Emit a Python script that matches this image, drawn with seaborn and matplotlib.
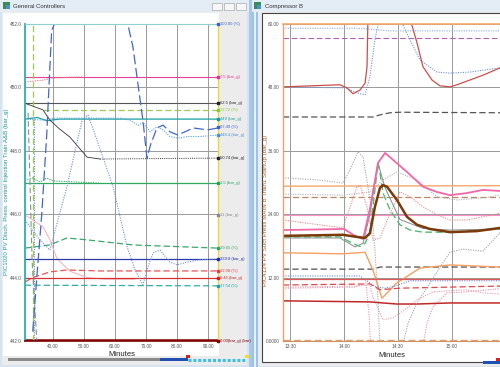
import matplotlib
matplotlib.use("Agg")
import matplotlib.pyplot as plt
import matplotlib.transforms as mtransforms
from matplotlib.patches import Rectangle
from matplotlib.lines import Line2D
import seaborn as sns

W, H = 500, 367

# ---------------- General Controllers (left) : minutes vs bar_g ----------------
gc_xticks = [40, 50, 60, 70, 80, 90]
gc_xlabels = ["40.00", "50.00", "60.00", "70.00", "80.00", "90.00"]
gc_yticks = [442, 444, 446, 448, 450, 452]
gc_ylabels = ["442.0", "444.0", "446.0", "448.0", "450.0", "452.0"]

gc_out_t = [33.5, 34.8, 36.4, 38.0, 39.0, 39.6, 40.5, 63.5, 64.2, 65.8, 68.1, 69.0, 70.3, 71.5, 73.5, 75.5, 77.7, 80.2, 82.6, 85.2, 89.8, 93.2]
gc_out_v = [442.3, 444.0, 446.0, 448.5, 450.6, 451.8, 452.0, 452.0, 451.97, 451.27, 449.6, 448.97, 447.77, 448.2, 448.72, 448.81, 448.6, 448.5, 448.6, 448.72, 448.66, 448.72]
gc_hump_t = [31.0, 35.8, 39.0, 44.5, 49.4, 51.3, 54.2, 59.4, 63.9, 66.5, 69.0, 70.6, 72.3, 74.5, 77.7, 80.0, 83.2, 87.4, 93.2]
gc_hump_v = [445.82, 445.19, 444.87, 446.86, 448.97, 449.13, 448.34, 446.86, 444.97, 444.24, 443.77, 444.33, 444.78, 444.87, 444.49, 444.40, 444.49, 444.56, 444.59]
gc_flow_t = [31.0, 93.2]
gc_flow_v = [444.59, 444.59]
gc_wave_t = [31.0, 36.8, 40.6, 50.3, 61.6, 64.8, 67.5, 69.0, 71.3, 73.5, 75.5, 77.7, 80.3, 83.5, 87.4, 93.2]
gc_wave_v = [449.0, 448.97, 449.03, 449.03, 449.03, 448.97, 448.8, 448.9, 448.6, 448.75, 448.66, 448.45, 448.4, 448.45, 448.45, 448.5]
gc_decay_t = [31.0, 36.8, 39.0, 42.0, 45.5, 51.0, 55.2]
gc_decay_v = [449.5, 449.29, 448.97, 448.7, 448.43, 447.8, 447.74]
gc_decay2_t = [55.2, 93.2]
gc_decay2_v = [447.74, 447.77]
gc_sp_t = [31.0, 93.2]
gc_sp_v = [449.5, 449.5]
gc_pink_t = [31.0, 93.2]
gc_pink_v = [450.33, 450.33]
gc_pinkdot_t = [31.0, 36.8, 40.0, 49.7]
gc_pinkdot_v = [450.17, 450.23, 450.3, 450.33]
gc_lime_t = [36.8, 93.2]
gc_lime_v = [449.29, 449.29]
gc_limevert_t = [33.5, 33.5]
gc_limevert_v = [442.0, 452.0]
gc_teal_t = [31.0, 35.0, 38.0, 42.0, 93.2]
gc_teal_v = [449.0, 449.05, 448.95, 449.0, 449.0]
gc_green_t = [31.0, 93.2]
gc_green_v = [446.98, 446.98]
gc_greendot_t = [31.0, 33.5, 35.8, 38.1, 40.0, 55.2]
gc_greendot_v = [447.08, 447.14, 447.02, 447.14, 447.05, 446.98]
gc_gdash_t = [31.0, 39.0, 44.5, 51.0, 65.8, 93.2]
gc_gdash_v = [444.93, 445.03, 445.25, 445.19, 445.03, 444.93]
gc_rdash_t = [31.0, 33.5, 39.0, 44.5, 55.2, 93.2]
gc_rdash_v = [443.86, 444.0, 444.18, 444.24, 444.21, 444.21]
gc_red_t = [31.0, 93.2]
gc_red_v = [444.0, 444.0]
gc_tdash_t = [31.0, 93.2]
gc_tdash_v = [443.76, 443.74]
gc_salmon_t = [31.0, 33.5, 36.8, 39.0, 41.3, 45.5, 51.0, 57.0, 66.5]
gc_salmon_v = [445.97, 445.82, 445.6, 445.2, 444.6, 444.2, 444.0, 443.95, 443.95]
gc_zero_t = [31.0, 93.2]
gc_zero_v = [442.02, 442.02]
gc_drop_t = [32.0, 32.6, 33.3, 34.2, 34.8]
gc_drop_v = [449.2, 447.0, 444.5, 443.0, 442.0]
gc_vdot_t = [33.9, 33.9]
gc_vdot_v = [449.0, 442.0]

gc_tags = [452.0, 450.33, 449.5, 449.29, 449.0, 448.75, 448.5, 447.77, 446.98,
           445.97, 444.93, 444.59, 444.21, 444.0, 443.73, 442.0]
gc_tag_text = ["100.00 (%)", "7.5 (bar_g)", "62.5 (bar_g)", "72.72 (%)", "449 (bar_g)",
               "67.49 (%)", "448.4 (bar_g)", "50.74 (bar_g)", "1.5 (bar_g)", "11 (bar_g)",
               "29.65 (%)", "339.8 (bar_g)", "22.08 (%)", "0.45 (bar_g)", "17.54 (%)",
               "0.00(bar_g) (bar)"]
gc_tag_col = ["#3a5fc8", "#e0308a", "#222222", "#8cc43c", "#1a9a9a", "#3a5fc8", "#4a90d0",
              "#222222", "#2aa060", "#888888", "#3aa060", "#2030a0", "#e04040", "#d02020",
              "#20a0a0", "#800000"]

# ---------------- Compressor B (right) : minutes after 13:00 vs bar_g ----------------
cb_xticks = [30, 60, 90, 120]
cb_xlabels = ["13:30", "14:00", "14:30", "15:00"]
cb_yticks = [0, 12, 24, 36, 48, 60]
cb_ylabels = ["0.0000", "12.00", "24.00", "36.00", "48.00", "60.00"]

cb_top_t = [26.1, 66.0, 72.0, 78.0, 85.0, 100.0, 146.7]
cb_top_v = [59.2, 59.2, 59.1, 58.9, 58.7, 58.7, 58.7]
cb_dipa_t = [26.1, 60.6, 68.9, 71.7, 74.4, 77.2, 78.9, 79.5]
cb_dipa_v = [48.1, 47.9, 46.8, 46.6, 50.0, 57.0, 59.8, 61.0]
cb_dipb_t = [92.2, 96.7, 102.2, 111.7, 118.9, 130.0, 146.7]
cb_dipb_v = [60.2, 57.0, 53.2, 50.9, 50.7, 50.9, 51.7]
cb_purple_t = [26.1, 146.7]
cb_purple_v = [57.4, 57.4]
cb_reda_t = [26.1, 57.8, 61.7, 65.0, 68.9, 71.7, 72.8, 73.3]
cb_reda_v = [48.1, 48.5, 47.9, 46.8, 47.5, 48.8, 51.9, 61.0]
cb_redb_t = [96.7, 100.6, 103.9, 108.9, 113.3, 118.9, 122.8, 130.0, 137.2, 146.7]
cb_redb_v = [61.0, 56.4, 51.9, 49.4, 48.3, 48.1, 48.5, 49.4, 50.3, 51.7]
cb_gdhi_t = [26.1, 76.1, 80.0, 85.6, 91.1, 146.7]
cb_gdhi_v = [42.4, 42.4, 42.8, 43.2, 43.3, 43.2]
cb_pink_t = [26.1, 60.0, 66.1, 70.6, 74.4, 78.9, 82.8, 87.2, 95.0, 103.9, 111.7, 118.9, 128.3, 137.2, 146.7]
cb_pink_v = [21.0, 21.2, 19.9, 19.3, 25.0, 33.7, 35.6, 34.3, 32.0, 29.2, 28.2, 27.6, 28.0, 28.6, 28.4]
cb_pv_t = [26.1, 59.4, 67.2, 71.7, 74.4, 77.2, 80.0, 81.7, 83.9, 89.4, 95.0, 100.6, 107.8, 118.9, 133.9, 146.7]
cb_pv_v = [19.9, 20.1, 19.7, 19.5, 20.4, 25.4, 29.0, 29.5, 29.2, 26.7, 23.5, 22.0, 21.2, 20.6, 20.8, 21.4]
cb_green_t = [26.1, 57.8, 66.1, 68.9, 71.7, 74.4, 78.9, 80.0, 81.7, 85.6, 91.1, 96.7, 103.9, 118.9, 146.7]
cb_green_v = [19.7, 19.7, 18.3, 17.9, 18.5, 20.4, 33.7, 31.8, 28.0, 24.8, 22.0, 21.0, 20.6, 20.6, 21.2]
cb_gray_t = [26.1, 57.8, 66.1, 70.6, 74.4, 78.9, 82.8, 91.1, 103.9, 118.9, 146.7]
cb_gray_v = [19.5, 19.5, 17.8, 18.5, 24.0, 33.7, 29.0, 23.0, 21.3, 21.0, 21.2]
cb_orhi_t = [26.1, 146.7]
cb_orhi_v = [29.3, 29.4]
cb_tan_t = [26.1, 146.7]
cb_tan_v = [27.2, 27.2]
cb_pline_t = [26.1, 146.7]
cb_pline_v = [23.9, 23.9]
cb_gdot1_t = [26.1, 45.0, 59.4, 63.3, 67.8, 70.6, 73.3, 75.6, 77.2, 78.9, 80.0]
cb_gdot1_v = [30.9, 30.5, 29.9, 32.4, 35.8, 34.8, 29.2, 24.2, 17.2, 7.8, -1.0]
cb_gdot2_t = [26.1, 59.4, 74.4, 81.7, 89.4, 100.6, 111.7, 122.8, 137.2, 146.7]
cb_gdot2_v = [27.8, 27.6, 28.2, 30.5, 32.0, 30.5, 27.3, 26.7, 27.1, 27.6]
cb_pdot_t = [26.1, 59.4, 67.2, 68.9, 72.8, 76.1, 80.0, 85.6, 91.1, 96.7, 103.9, 111.7, 118.9, 128.3, 137.2, 146.7]
cb_pdot_v = [22.9, 21.4, 29.2, 29.5, 25.4, 19.1, 19.5, 24.2, 28.2, 27.3, 25.4, 23.9, 22.9, 22.9, 23.5, 24.2]
cb_gdlo_t = [26.1, 76.1, 80.0, 146.7]
cb_gdlo_v = [13.6, 13.6, 14.0, 14.0]
cb_orlo_t = [26.1, 59.4, 71.7, 76.1, 81.1, 89.4, 102.2, 118.9, 146.7]
cb_orlo_v = [16.7, 16.5, 16.8, 13.4, 8.1, 11.0, 13.8, 14.4, 14.0]
cb_bdot_t = [26.1, 68.9, 77.2, 82.8, 88.3, 96.7, 146.7]
cb_bdot_v = [12.3, 12.3, 10.3, 10.0, 10.4, 11.4, 11.4]
cb_redlo_t = [26.1, 146.7]
cb_redlo_v = [11.7, 11.7]
cb_rdash_t = [26.1, 74.4, 80.0, 91.1, 146.7]
cb_rdash_v = [10.6, 10.8, 9.7, 10.0, 10.4]
cb_pdot2_t = [26.1, 66.1, 74.4, 76.1, 81.7, 87.2, 95.0, 100.6, 109.4, 128.3, 137.2, 146.7]
cb_pdot2_v = [10.2, 10.4, 10.6, 8.3, 4.0, 4.4, 6.2, 7.8, 9.3, 9.7, 9.1, 8.9]
cb_pdot3_t = [26.1, 66.1, 72.2, 73.9, 75.0, 103.3, 106.1, 109.4, 117.2, 128.3, 146.7]
cb_pdot3_v = [10.0, 10.2, 11.0, 5.0, -2.0, -2.0, 3.4, 6.4, 9.1, 9.3, 9.9]
cb_dred_t = [26.1, 74.4, 81.7, 89.4, 100.6, 118.9, 146.7]
cb_dred_v = [7.6, 7.4, 7.2, 7.0, 7.0, 7.2, 7.2]
cb_gdot3_t = [92.8, 95.6, 100.6, 107.8, 115.0, 118.9, 126.0, 137.2, 146.7]
cb_gdot3_v = [-0.5, 3.4, 7.2, 11.0, 14.8, 16.8, 17.4, 17.0, 20.5]
cb_base_t = [26.1, 146.7]
cb_base_v = [0.1, 0.1]

DOT = (0, (1, 1.2))
DASH = (0, (5, 2.5))
LDASH = (0, (8, 3))

gc_traces = [
    (gc_zero_t, gc_zero_v, "#800000", "-", 1.8),
    (gc_sp_t, gc_sp_v, "#555555", "-", 0.8),
    (gc_pink_t, gc_pink_v, "#e8409a", "-", 0.8),
    (gc_pinkdot_t, gc_pinkdot_v, "#f07070", DOT, 0.8),
    (gc_lime_t, gc_lime_v, "#9ccc50", DASH, 0.9),
    (gc_limevert_t, gc_limevert_v, "#9ccc50", DASH, 0.9),
    (gc_teal_t, gc_teal_v, "#1aa0a0", "-", 0.9),
    (gc_green_t, gc_green_v, "#30a860", "-", 0.9),
    (gc_greendot_t, gc_greendot_v, "#30a860", DOT, 0.8),
    (gc_gdash_t, gc_gdash_v, "#3aa868", DASH, 0.9),
    (gc_salmon_t, gc_salmon_v, "#f7b0b8", "-", 0.7),
    (gc_rdash_t, gc_rdash_v, "#f05050", DASH, 0.9),
    (gc_red_t, gc_red_v, "#d83030", "-", 0.9),
    (gc_tdash_t, gc_tdash_v, "#30b0a0", DASH, 0.9),
    (gc_flow_t, gc_flow_v, "#2a3aa8", "-", 0.9),
    (gc_decay_t, gc_decay_v, "#333333", "-", 0.6),
    (gc_decay2_t, gc_decay2_v, "#333333", DOT, 0.7),
    (gc_wave_t, gc_wave_v, "#5aa0dc", DOT, 0.8),
    (gc_hump_t, gc_hump_v, "#6f8fd8", DOT, 0.8),
    (gc_drop_t, gc_drop_v, "#909090", DASH, 0.8),
    (gc_vdot_t, gc_vdot_v, "#6f8fd8", DOT, 0.8),
    (gc_out_t, gc_out_v, "#4466c8", LDASH, 0.9),
]

cb_traces = [
    (cb_base_t, cb_base_v, "#e0a070", DASH, 1.0),
    (cb_top_t, cb_top_v, "#8aa8e0", DOT, 0.8),
    (cb_purple_t, cb_purple_v, "#b060b0", DASH, 0.8),
    (cb_dipa_t, cb_dipa_v, "#7090d8", DOT, 0.8),
    (cb_dipb_t, cb_dipb_v, "#7090d8", DOT, 0.8),
    (cb_reda_t, cb_reda_v, "#c8504a", "-", 0.9),
    (cb_redb_t, cb_redb_v, "#c8504a", "-", 0.9),
    (cb_gdhi_t, cb_gdhi_v, "#555555", DASH, 0.9),
    (cb_orhi_t, cb_orhi_v, "#f5a868", "-", 1.0),
    (cb_tan_t, cb_tan_v, "#b88868", DASH, 0.9),
    (cb_pline_t, cb_pline_v, "#ff90c8", "-", 0.8),
    (cb_gdot1_t, cb_gdot1_v, "#a8a8a8", DOT, 0.8),
    (cb_gdot2_t, cb_gdot2_v, "#b0b0b0", DOT, 0.8),
    (cb_pdot_t, cb_pdot_v, "#f08888", DOT, 0.8),
    (cb_gdlo_t, cb_gdlo_v, "#505050", DASH, 0.9),
    (cb_orlo_t, cb_orlo_v, "#f5a060", "-", 1.0),
    (cb_bdot_t, cb_bdot_v, "#6a8ad8", DOT, 0.8),
    (cb_redlo_t, cb_redlo_v, "#e05858", "-", 0.9),
    (cb_rdash_t, cb_rdash_v, "#e04848", DASH, 0.9),
    (cb_pdot2_t, cb_pdot2_v, "#f0a0b0", DOT, 0.8),
    (cb_pdot3_t, cb_pdot3_v, "#f090a8", DOT, 0.8),
    (cb_dred_t, cb_dred_v, "#c02828", "-", 1.1),
    (cb_gdot3_t, cb_gdot3_v, "#a0a0a0", DOT, 0.8),
    (cb_gray_t, cb_gray_v, "#8a8a8a", "-", 0.7),
    (cb_green_t, cb_green_v, "#58b878", DASH, 1.0),
    (cb_pink_t, cb_pink_v, "#f068a8", "-", 1.3),
    (cb_pv_t, cb_pv_v, "#7a3a0a", "-", 1.8),
]

sns.set_style("white")
plt.rcParams["font.family"] = ["Liberation Sans", "DejaVu Sans"]

fig = plt.figure(figsize=(W / 100, H / 100), dpi=100)
fig.patch.set_facecolor("#cfdff0")


def box(x0, y0, x1, y1, fc, ec="none", lw=0.0, z=-10):
    fig.add_artist(Rectangle((x0 / W, 1 - y1 / H), (x1 - x0) / W, (y1 - y0) / H,
                             transform=fig.transFigure, fc=fc, ec=ec, lw=lw, zorder=z))


def ftext(x, y, s, **kw):
    fig.text(x / W, 1 - y / H, s, **kw)


def axes_px(x0, y0, x1, y1):
    return fig.add_axes([x0 / W, 1 - y1 / H, (x1 - x0) / W, (y1 - y0) / H])


# window chrome - left
box(0, 0, 249, 367, "#d6e3f1")
box(0, 0, 249, 12, "#e4ecf6")
box(2, 12, 247, 365, "#ececec")
box(3, 13, 219, 356, "white")
box(3, 2, 10, 9, "#3a8a5a", z=-9)
box(6, 5, 10, 9, "#4a90d0", z=-8)
ftext(13, 6.5, "General Controllers", fontsize=4.3, color="#333333", va="center")
for bx in (212, 224, 236):
    box(bx, 3, bx + 10, 10, "#f6f6f6", ec="#9a9a9a", lw=0.4)
box(8, 358, 160, 361, "#8a8a8a")
box(160, 358, 188, 361, "#2050b0")
fig.add_artist(Line2D([188 / W, 246 / W], [1 - 359.5 / H] * 2, color="#40c0e0",
                      lw=2.2, ls=(0, (1, 0.6)), transform=fig.transFigure, zorder=-9))
box(186, 355, 190, 358, "#e02020", z=-8)
box(245, 355, 249, 358, "#f0e020", z=-8)

# window chrome - right
box(249, 0, 252, 367, "#a8c8ea")
box(252, 0, 500, 367, "#d6e3f1")
box(252, 0, 500, 12, "#e4ecf6")
box(252, 12, 258, 367, "#9cc2ea")
box(254, 12, 255.5, 367, "#e8f2fc", z=-9)
box(254, 2, 261, 9, "#3a8a5a", z=-9)
box(257, 5, 261, 9, "#4a90d0", z=-8)
ftext(265, 6.5, "Compressor B", fontsize=4.3, color="#333333", va="center")
box(258, 12, 500, 366, "#ececec", z=-9)
box(262, 13, 501, 362, "white", ec="#444444", lw=0.8, z=-8)
box(483, 361, 500, 364, "#2050b0", z=-7)
box(496, 358, 500, 361, "#e02020", z=-6)


def trace(ax, t, v, color, ls, lw, z):
    sns.lineplot(x=t, y=v, ax=ax, color=color, linestyle=ls, linewidth=lw,
                 estimator=None, sort=False, zorder=z)


def style_axes(ax, xticks, xlabels, yticks, ylabels, gridc):
    ax.set_facecolor("white")
    ax.set_xticks(xticks)
    ax.set_xticklabels(xlabels)
    ax.set_yticks(yticks)
    ax.set_yticklabels(ylabels)
    ax.tick_params(length=0, labelsize=3.4, pad=2.5, colors="#555555")
    ax.grid(True, color=gridc, lw=0.7)
    ax.set_axisbelow(True)
    ax.set_xlabel("")
    ax.set_ylabel("")


# ---- left chart ----
ax1 = axes_px(25, 24, 218, 341)
for i, (t, v, c, ls, lw) in enumerate(gc_traces):
    trace(ax1, t, v, c, ls, lw, 2 + i * 0.01)
ax1.set_xlim(31.0, 93.2)
ax1.set_ylim(442, 452)
style_axes(ax1, gc_xticks, gc_xlabels, gc_yticks, gc_ylabels, "#9a9a9a")
ax1.spines["left"].set_color("#2ab0b0")
ax1.spines["left"].set_linewidth(1.3)
ax1.spines["right"].set_color("#e8d840")
ax1.spines["right"].set_linewidth(1.0)
ax1.spines["top"].set_color("#8fd0d0")
ax1.spines["top"].set_linewidth(0.8)
ax1.spines["bottom"].set_color("#800000")
ax1.spines["bottom"].set_linewidth(1.2)

tag_tr = mtransforms.blended_transform_factory(ax1.transAxes, ax1.transData)
for val, txt, c in zip(gc_tags, gc_tag_text, gc_tag_col):
    ax1.plot([1.0], [val], marker="s", ms=1.6, color=c, transform=tag_tr, clip_on=False, zorder=5)
    ax1.text(1.012, val, txt, transform=tag_tr, fontsize=3.0, color=c, va="center",
             ha="left", clip_on=False)
ax1.set_xlabel("Minutes", fontsize=5.5, color="#222222", labelpad=1)
ftext(7, 192, "PIC1020 PV Disch. Press. control Injection Train A&B (bar_g)",
      fontsize=4.4, color="#1a9a8a", rotation=90, va="center", ha="center")

# ---- right chart ----
ax2 = axes_px(283, 24, 500, 341)
for i, (t, v, c, ls, lw) in enumerate(cb_traces):
    trace(ax2, t, v, c, ls, lw, 2 + i * 0.01)
ax2.set_xlim(26.1, 146.7)
ax2.set_ylim(0, 60)
style_axes(ax2, cb_xticks, cb_xlabels, cb_yticks, cb_ylabels, "#999999")
ax2.spines["left"].set_color("#f0a070")
ax2.spines["left"].set_linewidth(1.0)
ax2.spines["top"].set_color("#f5a868")
ax2.spines["top"].set_linewidth(1.2)
ax2.spines["bottom"].set_color("#d09060")
ax2.spines["bottom"].set_linewidth(0.8)
ax2.spines["right"].set_visible(False)
ax2.set_xlabel("Minutes", fontsize=5.5, color="#222222", labelpad=2)
ftext(266, 210, "PIC4124 PV Suct Press MAIN B Train1 StartUp (bar_g)",
      fontsize=4.4, color="#b06030", rotation=90, va="center", ha="center")

fig.savefig("out.png", dpi=100, facecolor=fig.get_facecolor())
